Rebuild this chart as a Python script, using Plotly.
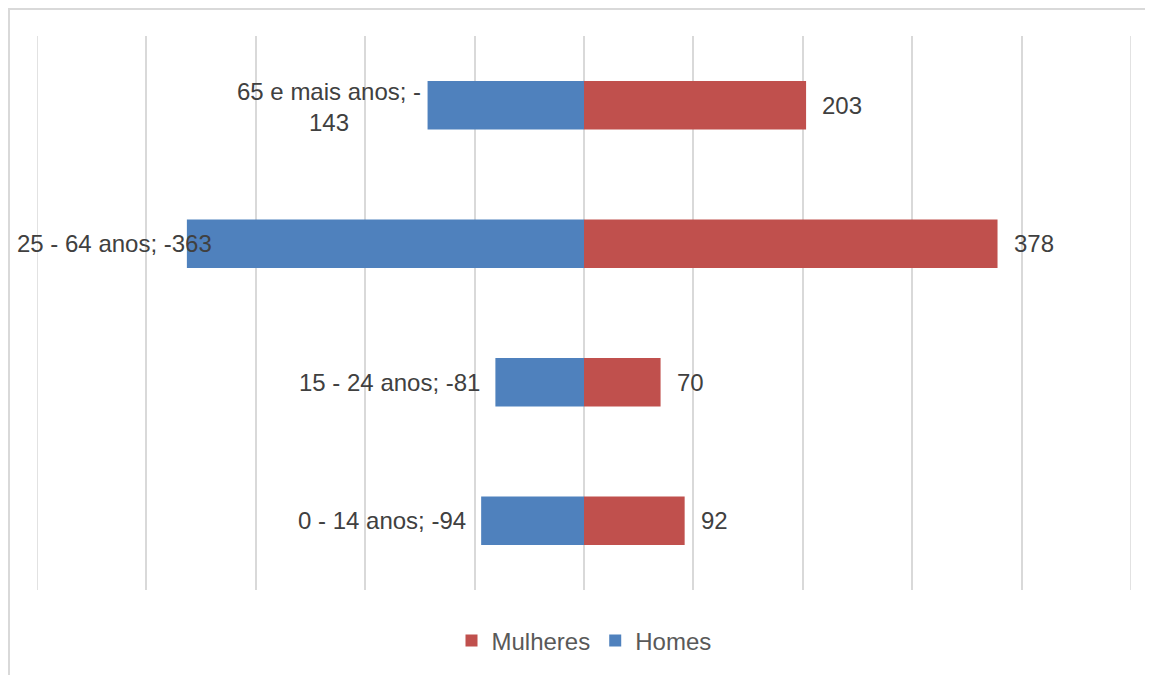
import plotly.graph_objects as go

categories = ["0 - 14 anos", "15 - 24 anos", "25 - 64 anos", "65 e mais anos"]
homes = [-94, -81, -363, -143]
mulheres = [92, 70, 378, 203]

BLUE = "#4F81BD"
RED = "#C0504D"
FONT = "Liberation Sans, Arial, sans-serif"

# page body has an 8px margin; figure coordinates below are relative to the figure
W, H = 1153, 675
ML, MR, MT, MB = 29, 30, 28, 93
XMIN, XMAX = -500, 500

fig = go.Figure()
fig.add_trace(go.Bar(y=categories, x=mulheres, orientation="h", name="Mulheres",
                     marker=dict(color=RED, line=dict(width=0))))
fig.add_trace(go.Bar(y=categories, x=homes, orientation="h", name="Homes",
                     marker=dict(color=BLUE, line=dict(width=0))))

pw = W - ML - MR
ph = H - MT - MB

ann = []
for c, v in zip(categories, mulheres):
    ann.append(dict(x=v, y=c, xref="x", yref="y", text=str(v), showarrow=False,
                    xanchor="left", xshift=14,
                    font=dict(size=24, color="#404040", family=FONT)))

for c, v in zip(categories, homes):
    if len(c) > 12:
        text = f"{c}; -<br>{abs(v)}"
    else:
        text = f"{c}; {v}"
    approx_w = len(text) * 11
    bar_px = ML + (v - XMIN) / (XMAX - XMIN) * pw
    if "<br>" not in text and bar_px - 10 - approx_w < 10:
        # label does not fit: pinned inside chart edge (overlapping the bar)
        ann.append(dict(x=(7 - ML) / pw, y=c, xref="paper", yref="y",
                        text=text, showarrow=False, xanchor="left",
                        font=dict(size=24, color="#404040", family=FONT)))
    else:
        ann.append(dict(x=v, y=c, xref="x", yref="y", text=text, showarrow=False,
                        xanchor="right", xshift=-5 if "<br>" in text else -13,
                        yshift=-2 if "<br>" in text else 0,
                        align="center",
                        font=dict(size=24, color="#404040", family=FONT)))

shapes = [dict(type="rect", xref="paper", yref="paper",
               x0=(1 - ML) / pw, x1=(W + 10 - ML) / pw,
               y0=-(MB + 10) / ph, y1=(ph + MT - 1) / ph,
               line=dict(color="#D9D9D9", width=2), fillcolor="rgba(0,0,0,0)",
               layer="below")]
for xv in (XMIN, XMAX):
    shapes.append(dict(type="line", xref="x", yref="paper", x0=xv, x1=xv, y0=0, y1=1,
                       line=dict(color="#D9D9D9", width=1.5), layer="below"))

fig.update_layout(
    width=W, height=H,
    margin=dict(l=ML, r=MR, t=MT, b=MB),
    paper_bgcolor="white", plot_bgcolor="white",
    barmode="relative", bargap=0.65,
    font=dict(family=FONT, size=24, color="#595959"),
    xaxis=dict(range=[XMIN, XMAX], dtick=100, tick0=0, showticklabels=False,
               showgrid=True, gridcolor="#D9D9D9", gridwidth=1.5,
               zeroline=False, showline=False, ticks="", fixedrange=True),
    yaxis=dict(showticklabels=False, showgrid=False, zeroline=False,
               showline=False, ticks="", categoryorder="array",
               categoryarray=categories),
    legend=dict(orientation="h", x=0.5, xanchor="center",
                y=(ph - (633 - MT)) / ph, yanchor="middle",
                font=dict(size=24, color="#595959", family=FONT),
                itemwidth=30, traceorder="normal"),
    annotations=ann,
    shapes=shapes,
)

fig.write_html("out.html")
